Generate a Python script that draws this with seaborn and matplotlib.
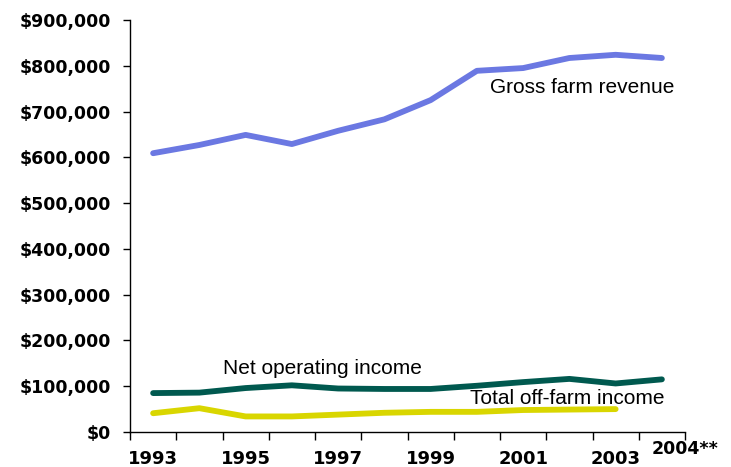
import matplotlib
matplotlib.use("Agg")
import matplotlib.pyplot as plt
import matplotlib.ticker as mticker
import numpy as np
import pandas as pd
import seaborn as sns

years = ["1993", "1994", "1995", "1996", "1997", "1998", "1999", "2000",
         "2001", "2002", "2003", "2004**"]
gross_farm_revenue = [609000, 627000, 649000, 629000, 658000, 683000, 725000,
                      789000, 795000, 817000, 824000, 817000]
net_operating_income = [85000, 86000, 96000, 102000, 95000, 94000, 94000,
                        101000, 109000, 116000, 106000, 115000]
total_off_farm_income = [41000, 52000, 34000, 34000, 38000, 42000, 44000,
                         44000, 48000, 49000, 50000]
y_ticks = [0, 100000, 200000, 300000, 400000, 500000, 600000, 700000,
           800000, 900000]

sns.set_style("white")
plt.rcParams["font.family"] = ["DejaVu Sans"]
plt.rcParams["text.color"] = "black"
plt.rcParams["xtick.color"] = "black"
plt.rcParams["ytick.color"] = "black"

fig = plt.figure(figsize=(7.31, 4.67), dpi=100)
ax = fig.add_axes([130 / 731, 35 / 467, 555 / 731, 412 / 467])

def frame(values):
    return pd.DataFrame({"x": np.arange(len(values)), "y": values})

series = [
    (gross_farm_revenue, "#6b78e2"),
    (net_operating_income, "#00594f"),
    (total_off_farm_income, "#d9d600"),
]
for values, color in series:
    sns.lineplot(data=frame(values), x="x", y="y", ax=ax, color=color,
                 linewidth=4.2, solid_capstyle="round", solid_joinstyle="round")

ax.set_xlim(-0.5, len(years) - 0.5)
ax.set_ylim(0, 900000)
ax.set_xlabel("")
ax.set_ylabel("")

# category boundaries carry the tick marks, labels sit on every other year
ax.set_xticks(np.arange(-0.5, len(years), 1.0))
ax.set_xticklabels([])
ax.set_xticks(np.arange(0, len(years) - 1, 2), minor=True)
ax.set_xticklabels(years[0:len(years) - 1:2], minor=True)
ax.tick_params(axis="x", which="major", direction="out", length=6, width=1,
               color="black", bottom=True)
ax.tick_params(axis="x", which="minor", length=0, pad=13, labelsize=13)
for lab in ax.get_xticklabels(minor=True):
    lab.set_fontweight("bold")
ax.text(len(years) - 0.5, -0.042, years[-1], transform=ax.get_xaxis_transform(),
        ha="center", va="center", fontsize=12.5, fontweight="bold")

ax.set_yticks(y_ticks)
ax.yaxis.set_major_formatter(mticker.FuncFormatter(lambda v, p: f"${v:,.0f}"))
ax.tick_params(axis="y", direction="out", length=5, width=1, color="black",
               left=True, pad=8.5, labelsize=12.5)
for lab in ax.get_yticklabels():
    lab.set_fontweight("bold")

for side in ("top", "right"):
    ax.spines[side].set_visible(False)
for side in ("left", "bottom"):
    ax.spines[side].set_color("black")
    ax.spines[side].set_linewidth(1)

label_font = dict(fontsize=15, family=["Liberation Sans", "DejaVu Sans"],
                  va="top", ha="left", color="black")
ax.text(7.28, 773000, "Gross farm revenue", **label_font)
ax.text(1.51, 160000, "Net operating income", **label_font)
ax.text(6.85, 94000, "Total off-farm income", **label_font)

fig.savefig("out.png", dpi=100)
